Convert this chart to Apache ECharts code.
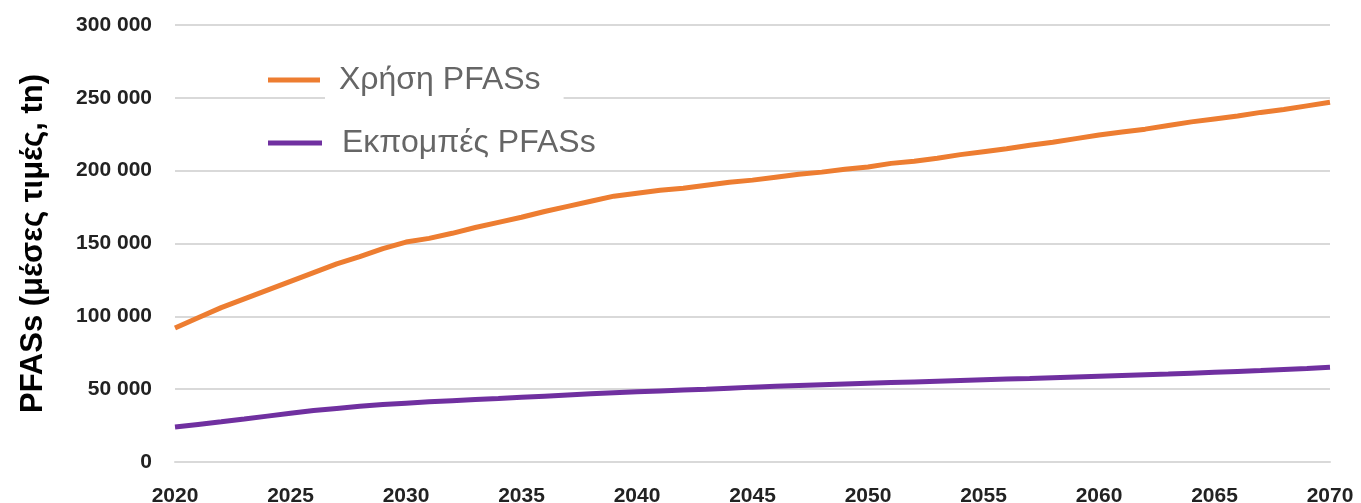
<!DOCTYPE html>
<html>
<head>
<meta charset="utf-8">
<script src="https://cdn.jsdelivr.net/npm/echarts@6/dist/echarts.min.js"></script>
<style>
html,body{margin:0;padding:0;background:#fff;}
#chart{width:1361px;height:503px;}
</style>
</head>
<body>
<div id="chart"></div>
<script>
const years = ['2020','2021','2022','2023','2024','2025','2026','2027','2028','2029',
  '2030','2031','2032','2033','2034','2035','2036','2037','2038','2039',
  '2040','2041','2042','2043','2044','2045','2046','2047','2048','2049',
  '2050','2051','2052','2053','2054','2055','2056','2057','2058','2059',
  '2060','2061','2062','2063','2064','2065','2066','2067','2068','2069','2070'];

const useName = 'Χρήση PFASs';
const useValues = [92000, 99000, 106000, 112000, 118000, 124000, 130000, 136000, 141000, 146500,
  151000, 153500, 157000, 161000, 164500, 168000, 172000, 175500, 179000, 182500,
  184500, 186500, 188000, 190000, 192000, 193500, 195500, 197500, 199000, 201000,
  202500, 205000, 206500, 208500, 211000, 213000, 215000, 217500, 219500, 222000,
  224500, 226500, 228500, 231000, 233500, 235500, 237500, 240000, 242000, 244500, 247000];

const emisName = 'Εκπομπές PFASs';
const emisValues = [24000, 25800, 27600, 29500, 31500, 33500, 35300, 36800, 38200, 39400,
  40400, 41300, 42100, 42900, 43600, 44400, 45200, 46000, 46800, 47500,
  48200, 48800, 49400, 50000, 50700, 51400, 52000, 52500, 53000, 53500,
  54000, 54500, 55000, 55500, 56000, 56500, 57000, 57400, 57900, 58400,
  58900, 59400, 59900, 60400, 61000, 61600, 62200, 62800, 63500, 64200, 65000];

const yAxisTitle = 'PFASs (μέσες τιμές, tn)';

const chart = echarts.init(document.getElementById('chart'), null, {renderer: 'canvas'});

const legendText = {
  fontFamily: 'Liberation Sans, Arial, sans-serif',
  fontSize: 32,
  color: '#666666',
  lineHeight: 36,
  backgroundColor: '#ffffff'
};

chart.setOption({
  animation: false,
  backgroundColor: '#ffffff',
  grid: {left: 175, right: 31, top: 25, bottom: 41, containLabel: false, outerBoundsMode: 'none'},
  legend: [
    {
      data: [useName],
      left: 268, top: 55, padding: 0,
      icon: 'rect', itemWidth: 52, itemHeight: 5,
      textStyle: Object.assign({}, legendText, {padding: [0, 23, 14, 14]})
    },
    {
      data: [emisName],
      left: 268, top: 122, padding: 0,
      icon: 'rect', itemWidth: 54, itemHeight: 5,
      textStyle: Object.assign({}, legendText, {padding: [0, 22, 6, 15]})
    }
  ],
  xAxis: {
    type: 'category',
    data: years,
    boundaryGap: false,
    axisLine: {show: true, lineStyle: {color: '#d9d9d9', width: 2}},
    axisTick: {show: false},
    splitLine: {show: false},
    axisLabel: {
      interval: 4,
      margin: 24,
      fontFamily: 'Liberation Sans, Arial, sans-serif',
      fontWeight: 'bold',
      fontSize: 21,
      color: '#222222'
    }
  },
  yAxis: {
    type: 'value',
    min: 0, max: 300000, interval: 50000,
    name: yAxisTitle,
    nameLocation: 'middle',
    nameGap: 126,
    nameTextStyle: {
      fontFamily: 'Liberation Sans, Arial, sans-serif',
      fontWeight: 'bold',
      fontSize: 31,
      color: '#000000'
    },
    axisLine: {show: false},
    axisTick: {show: false},
    splitLine: {show: true, lineStyle: {color: '#d9d9d9', width: 2}},
    axisLabel: {
      margin: 23,
      fontFamily: 'Liberation Sans, Arial, sans-serif',
      fontWeight: 'bold',
      fontSize: 21,
      color: '#222222',
      formatter: function (v) {
        return String(v).replace(/\B(?=(\d{3})+(?!\d))/g, ' ');
      }
    }
  },
  series: [
    {
      name: useName, type: 'line', data: useValues,
      showSymbol: false, symbol: 'none',
      lineStyle: {color: '#ED7D31', width: 5},
      itemStyle: {color: '#ED7D31'}
    },
    {
      name: emisName, type: 'line', data: emisValues,
      showSymbol: false, symbol: 'none',
      lineStyle: {color: '#7030A0', width: 5},
      itemStyle: {color: '#7030A0'}
    }
  ]
});
</script>
</body>
</html>
